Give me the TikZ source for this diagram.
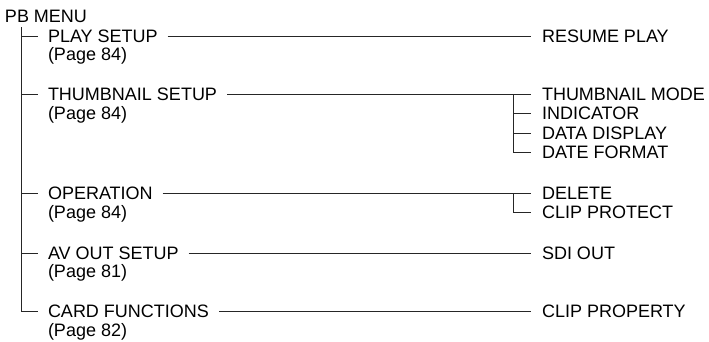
\documentclass[tikz,border=0pt]{standalone}
\usepackage{fontspec}
\setmainfont{Liberation Sans}
\begin{document}
\begin{tikzpicture}[x=1pt,y=-1pt,
  lbl/.style={anchor=west,inner sep=0pt,outer sep=0pt,text height=12.9pt,text depth=0pt,font=\fontsize{18}{18}\selectfont},
  ln/.style={line width=0.9pt,black!85}]
\useasboundingbox (0,0) rectangle (709,341);
% root
\node[lbl] (pb) at (5,16.5) {PB MENU};
% level 1
\node[lbl] (ps)  at (48,36)  {PLAY SETUP};
\node[lbl] (psp) at (48,54)  {(Page 84)};
\node[lbl] (ts)  at (48,94.5)  {THUMBNAIL SETUP};
\node[lbl] (tsp) at (48,113) {(Page 84)};
\node[lbl] (op)  at (48,193.5) {OPERATION};
\node[lbl] (opp) at (48,212) {(Page 84)};
\node[lbl] (av)  at (48,253) {AV OUT SETUP};
\node[lbl] (avp) at (48,271.5) {(Page 81)};
\node[lbl] (cf)  at (48,311.5) {CARD FUNCTIONS};
\node[lbl] (cfp) at (48,330) {(Page 82)};
% level 2
\node[lbl] (rp) at (542,36)  {RESUME PLAY};
\node[lbl] (tm) at (542,94.5)  {THUMBNAIL MODE};
\node[lbl] (in) at (542,113.5) {INDICATOR};
\node[lbl] (dd) at (542,133) {DATA DISPLAY};
\node[lbl] (df) at (542,152.5) {DATE FORMAT};
\node[lbl] (de) at (542,193.5) {DELETE};
\node[lbl] (cp) at (542,212.5) {CLIP PROTECT};
\node[lbl] (sd) at (542,253) {SDI OUT};
\node[lbl] (pr) at (542,311.5) {CLIP PROPERTY};
% trunk
\coordinate (tt) at (21,27);
\coordinate (j1) at (21,36);
\coordinate (j2) at (21,94.5);
\coordinate (j3) at (21,193.5);
\coordinate (j4) at (21,253);
\draw[ln] (tt) |- ([xshift=-10pt]cf.west);
\foreach \j/\n in {j1/ps,j2/ts,j3/op,j4/av}
  \draw[ln] (\j) -- ([xshift=-10pt]\n.west);
% long lines
\foreach \a/\b in {ps/rp,ts/tm,op/de,av/sd,cf/pr}
  \draw[ln] ([xshift=10pt]\a.east) -- ([xshift=-11pt]\b.west);
% sub trees
\coordinate (s1) at (513,94.5);
\coordinate (s2) at (513,113.5);
\coordinate (s3) at (513,133);
\coordinate (s4) at (513,193.5);
\draw[ln] (s1) |- ([xshift=-11pt]df.west);
\draw[ln] (s2) -- ([xshift=-11pt]in.west);
\draw[ln] (s3) -- ([xshift=-11pt]dd.west);
\draw[ln] (s4) |- ([xshift=-11pt]cp.west);
\end{tikzpicture}
\end{document}
